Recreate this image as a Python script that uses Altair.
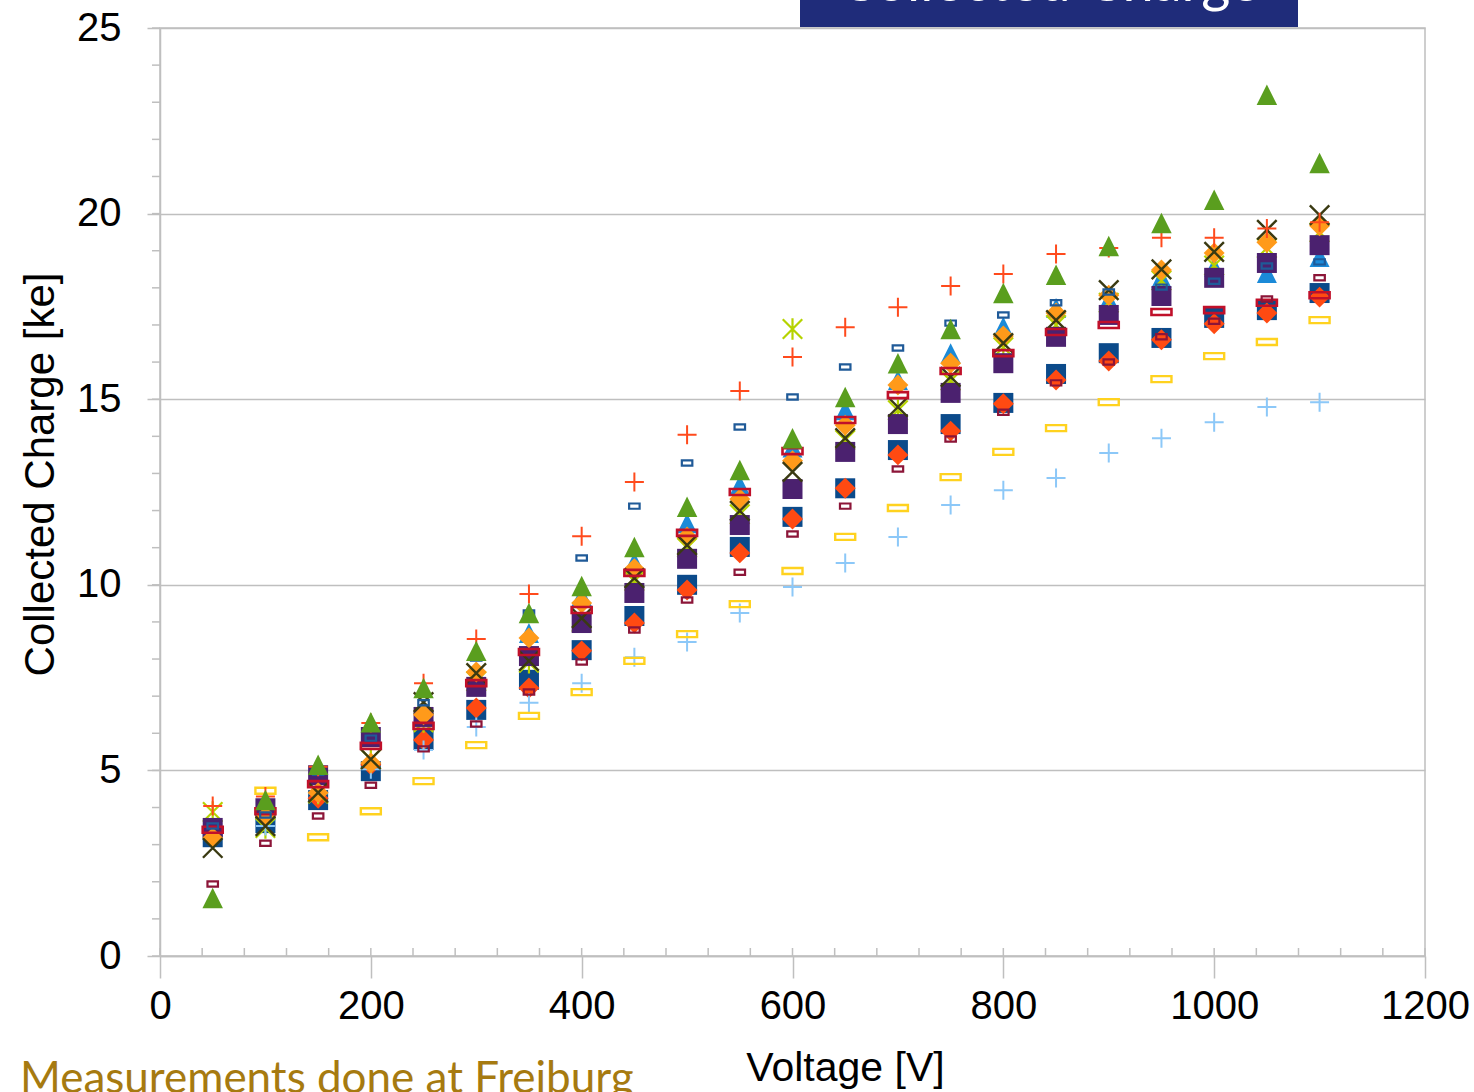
import altair as alt
import pandas as pd

# ---------------- data ----------------
voltage = [50, 100, 150, 200, 250, 300, 350, 400, 450, 500, 550,
           600, 650, 700, 750, 800, 850, 900, 950, 1000, 1050, 1100]

darkblue_square = [3.2, 3.58, 4.2, 4.98, 5.82, 6.63, 7.44, 8.24, 9.16, 10.0, 11.02,
                   11.83, 12.6, 13.63, 14.33, 14.9, 15.68, 16.24, 16.65, 17.19, 17.4, 17.86]
orangered_diamond = [None, None, 4.25, 5.15, 5.82, 6.68, 7.22, 8.22, 8.97, 9.86, 10.86,
                     11.77, 12.6, 13.5, 14.14, 14.88, 15.52, 16.03, 16.6, 17.03, 17.32, 17.75]
lightblue_triangle = [3.4, 3.9, 4.9, 5.9, 6.6, 7.6, 8.7, 9.7, 10.61, 11.66, 12.69,
                      13.7, 14.7, 15.52, 16.24, 16.95, 17.46, 17.67, 18.27, 18.56, 18.4, 18.83]
yellowgreen_star = [3.88, 3.45, 4.38, 5.3, 6.3, 7.4, 7.9, 9.0, 10.1, 11.0, 11.9,
                    16.89, 13.9, 14.7, 15.5, 16.4, 17.0, 17.6, 18.2, 18.6, 19.07, 19.5]
lightblue_plus = [None, 3.5, 4.38, 5.03, 5.55, 6.17, 6.82, 7.35, 8.05, 8.46, 9.24,
                  9.94, 10.59, 11.29, 12.15, 12.55, 12.88, 13.55, 13.95, 14.38, 14.79, 14.92]
purple_square = [3.45, 3.98, 4.87, 5.9, 6.44, 7.25, 8.08, 8.97, 9.78, 10.7, 11.61,
                 12.58, 13.58, 14.33, 15.17, 15.97, 16.68, 17.27, 17.78, 18.27, 18.67, 19.15]
orange_diamond = [3.18, 3.75, 4.4, 5.2, 6.5, 7.65, 8.57, 9.51, 10.43, 11.29, 12.31,
                  13.34, 14.3, 15.38, 15.97, 16.7, 17.32, 17.8, 18.48, 18.94, 19.23, 19.67]
olive_x = [2.91, 3.5, 4.4, 5.3, 6.84, 7.62, 7.95, 9.1, 10.18, 11.07, 11.99,
           13.04, 13.95, 14.79, 15.6, 16.51, 17.13, 17.94, 18.5, 18.97, 19.56, 19.96]
red_rect = [3.4, 3.9, 4.63, 5.66, 6.2, 7.35, 8.19, 9.32, 10.32, 11.4, 12.5,
            13.6, 14.44, 15.11, 15.76, 16.24, 16.81, 17.0, 17.35, 17.4, 17.6, 17.8]
darkred_rect = [1.94, 3.04, 3.77, 4.6, 5.58, 6.25, 7.11, 7.92, 8.78, 9.59, 10.34,
                11.37, 12.12, 13.12, 13.93, 14.65, 15.44, 16.0, 16.68, 17.1, 17.7, 18.27]
blue_rect = [3.5, 3.8, 4.95, 5.87, 6.82, 8.03, 9.24, 10.72, 12.12, 13.28, 14.25,
             15.06, 15.87, 16.38, 17.05, 17.27, 17.6, 17.89, 18.02, 18.18, 18.59, 18.7]
yellow_rect = [None, 4.45, 3.2, 3.9, 4.71, 5.68, 6.47, 7.11, 7.95, 8.67, 9.48,
               10.37, 11.29, 12.07, 12.9, 13.58, 14.22, 14.92, 15.54, 16.16, 16.54, 17.13]
red_plus = [4.04, 4.3, 5.1, 6.28, 7.35, 8.54, 9.75, 11.31, 12.77, 14.04, 15.22,
            16.14, 16.94, 17.48, 18.05, 18.37, 18.91, 19.07, 19.35, 19.35, 19.6, 19.77]
green_triangle = [1.56, 4.2, 5.15, 6.3, 7.22, 8.22, 9.24, 9.97, 11.02, 12.1, 13.09,
                  13.95, 15.06, 15.97, 16.89, 17.86, 18.35, 19.13, 19.75, 20.37, 23.2, 21.36]

x_major = [0, 200, 400, 600, 800, 1000, 1200]
x_minor = list(range(0, 1201, 40))
y_major = [0, 5, 10, 15, 20, 25]
y_minor = list(range(0, 26))

# ---------------- styles ----------------
PLUS = "M-1,0L1,0M0,-1L0,1"
CROSS = "M-1,-1L1,1M-1,1L1,-1"
STAR = "M-1,-1L1,1M-1,1L1,-1M0,-1.1L0,1.1"
TRI = "M0,-1L1,1L-1,1Z"
WIDE = "M-1,-0.3L1,-0.3L1,0.3L-1,0.3Z"
SMALL = "M-1,-0.5L1,-0.5L1,0.5L-1,0.5Z"

series = [
    (darkblue_square, "square", True, 400, "#0B4A8A", 1),
    (orangered_diamond, "diamond", True, 440, "#FF4A12", 1),
    (lightblue_triangle, TRI, True, 400, "#1B8AD8", 1),
    (yellowgreen_star, STAR, False, 380, "#B5D300", 2.2),
    (lightblue_plus, PLUS, False, 361, "#8CC8F8", 2),
    (purple_square, "square", True, 400, "#4B216F", 1),
    (orange_diamond, "diamond", True, 440, "#FF9A1A", 1),
    (olive_x, CROSS, False, 380, "#3A3A12", 2.4),
    (red_rect, WIDE, False, 400, "#C0102A", 2.6),
    (darkred_rect, SMALL, False, 110, "#8C1538", 2.2),
    (blue_rect, SMALL, False, 110, "#1F5A98", 2.2),
    (yellow_rect, WIDE, False, 400, "#FFD21F", 2.4),
    (red_plus, PLUS, False, 361, "#FF4A1C", 2),
    (green_triangle, TRI, True, 420, "#5A9E1E", 1),
]

GRAY = "#BFBFBF"
W, H = 1265, 928

x_enc = alt.X("v:Q", scale=alt.Scale(domain=[0, 1200], nice=False, zero=False),
              axis=alt.Axis(values=x_major, format="d", title="Voltage [V]", grid=False,
                            tickSize=22, tickColor=GRAY, tickWidth=1.5,
                            domainColor=GRAY, domainWidth=1.5,
                            labelFontSize=40, labelFont="Liberation Sans", labelColor="#000000",
                            labelPadding=8, labelFlush=False, labelOverlap=False,
                            titleFontSize=41, titleFont="Liberation Sans", titleFontWeight="normal",
                            titleColor="#000000", titleX=685, titleY=112,
                            titleBaseline="middle", titleAlign="center"))
y_enc = alt.Y("q:Q", scale=alt.Scale(domain=[0, 25], nice=False, zero=False),
              axis=alt.Axis(values=y_major, format="d", title="Collected Charge [ke]", grid=True,
                            gridColor=GRAY, gridWidth=1.5,
                            tickSize=13, tickColor=GRAY, tickWidth=1.5,
                            domainColor=GRAY, domainWidth=1.5,
                            labelFontSize=40, labelFont="Liberation Sans", labelColor="#000000",
                            labelPadding=26, labelFlush=False, labelOverlap=False,
                            titleFontSize=42, titleFont="Liberation Sans", titleFontWeight="normal",
                            titleColor="#000000", titleX=-120, titleY=446, titleAngle=270,
                            titleBaseline="middle", titleAlign="center"))

layers = []
for vals, shape, filled, size, color, sw in series:
    df = pd.DataFrame({"v": voltage, "q": vals}).dropna()
    if filled:
        props = dict(shape=shape, filled=True, size=size, color=color, opacity=1, strokeWidth=0)
    else:
        props = dict(shape=shape, filled=False, size=size, color=color, opacity=1, strokeWidth=sw)
    layers.append(alt.Chart(df).mark_point(**props).encode(x=x_enc, y=y_enc))

# minor ticks
xminor = alt.Chart(pd.DataFrame({"v": x_minor})).mark_tick(
    orient="vertical", color=GRAY, thickness=1.5, size=8, opacity=1
).encode(x=alt.X("v:Q", scale=alt.Scale(domain=[0, 1200], nice=False)), y=alt.value(H - 4))
yminor = alt.Chart(pd.DataFrame({"q": y_minor})).mark_tick(
    orient="horizontal", color=GRAY, thickness=1.5, size=8, opacity=1
).encode(y=alt.Y("q:Q", scale=alt.Scale(domain=[0, 25], nice=False)), x=alt.value(-4))

# decorations: title box and footer text
one = pd.DataFrame({"t": ["Collected Charge"]})
box = alt.Chart(one).mark_rect(color="#1F2C7A").encode(
    x=alt.value(640), x2=alt.value(1138), y=alt.value(-30), y2=alt.value(-1))
box_text = alt.Chart(one).mark_text(
    color="#FFFFFF", font="Lato", fontSize=56, align="center", baseline="alphabetic"
).encode(text="t:N", x=alt.value(889), y=alt.value(-27))
foot = alt.Chart(pd.DataFrame({"t": ["Measurements done at Freiburg"]})).mark_text(
    color="#A67A10", font="Lato", fontSize=44, align="left", baseline="alphabetic"
).encode(text="t:N", x=alt.value(-140), y=alt.value(1093 - 28))

chart = alt.layer(xminor, yminor, *layers, box, box_text, foot).properties(
    width=W, height=H,
    padding={"left": 160, "top": 28, "right": 49, "bottom": 136},
    autosize=alt.AutoSizeParams(type="none"),
    background="#FFFFFF",
).configure_view(stroke=GRAY, strokeWidth=1.5)

chart.save("out.html", embed_options={"renderer": "svg", "actions": False})
